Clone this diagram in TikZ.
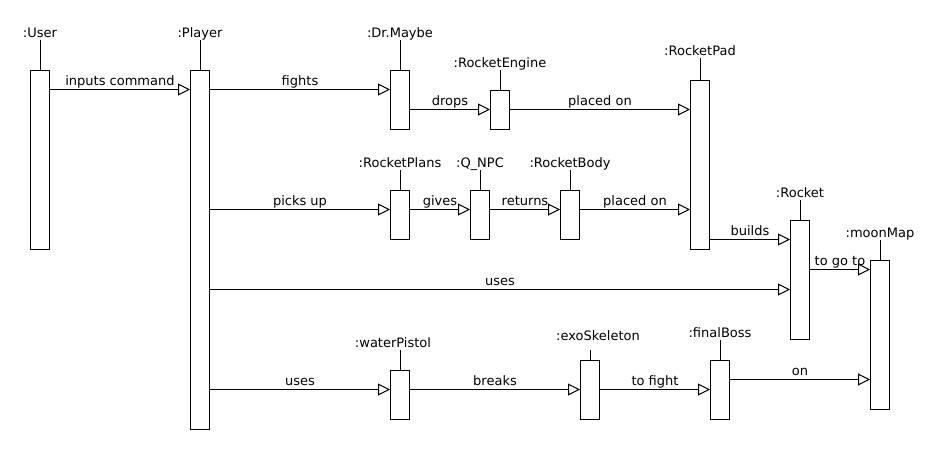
\documentclass[tikz,border=0pt]{standalone}
\usepackage{fontspec}
\setmainfont{DejaVu Sans}
\usetikzlibrary{arrows.meta}

\begin{document}
\begin{tikzpicture}[x=1pt,y=-1pt,line width=1pt,font=\fontsize{13}{15}\selectfont,
    act/.style={draw,fill=white,minimum width=19pt,inner sep=0pt},
    msg/.style={-{Triangle[open,length=12pt,width=12pt]}},
    lbl/.style={anchor=base,yshift=2pt,inner sep=0pt},
    txt/.style={midway,anchor=base,yshift=4pt,inner sep=0pt}]
    \useasboundingbox (0,0) rectangle (940,450);

    % Activation boxes
    \node[act, minimum height=179pt] (user)   at (40,159.5)  {};
    \node[act, minimum height=359pt] (player) at (200,249.5) {};
    \node[act, minimum height=59pt]  (drmaybe) at (400,99.5) {};
    \node[act, minimum height=39pt]  (engine) at (500,109.5) {};
    \node[act, minimum height=169pt] (pad)    at (700,164.5) {};
    \node[act, minimum height=49pt]  (plans)  at (400,214.5) {};
    \node[act, minimum height=49pt]  (npc)    at (480,214.5) {};
    \node[act, minimum height=49pt]  (body)   at (570,214.5) {};
    \node[act, minimum height=119pt] (rocket) at (800,279.5) {};
    \node[act, minimum height=149pt] (moon)   at (880,334.5) {};
    \node[act, minimum height=49pt]  (pistol) at (400,394.5) {};
    \node[act, minimum height=59pt]  (exo)    at (590,389.5) {};
    \node[act, minimum height=59pt]  (boss)   at (720,389.5) {};

    % Lifeline stems and object names
    \draw (user.north)    -- ++(0,-30) node[lbl] (userlbl) {:User};
    \draw (player.north)  -- ++(0,-30) node[lbl] (playerlbl) {:Player};
    \draw (drmaybe.north) -- ++(0,-30) node[lbl] (drmaybelbl) {:Dr.Maybe};
    \draw (engine.north)  -- ++(0,-20) node[lbl] (enginelbl) {:RocketEngine};
    \draw (pad.north)     -- ++(0,-22) node[lbl] (padlbl) {:RocketPad};
    \draw (plans.north)   -- ++(0,-20) node[lbl] (planslbl) {:RocketPlans};
    \draw (npc.north)     -- ++(0,-20) node[lbl] (npclbl) {:Q\_NPC};
    \draw (body.north)    -- ++(0,-20) node[lbl] (bodylbl) {:RocketBody};
    \draw (rocket.north)  -- ++(0,-20) node[lbl] (rocketlbl) {:Rocket};
    \draw (moon.north)    -- ++(0,-20) node[lbl] (moonlbl) {:moonMap};
    \draw (pistol.north)  -- ++(0,-20) node[lbl, xshift=-7pt] (pistollbl) {:waterPistol};
    \draw (exo.north)     -- ++(0,-10) node[lbl, xshift=8pt, yshift=7pt] (exolbl) {:exoSkeleton};
    \draw (boss.north)    -- ++(0,-20) node[lbl] (bosslbl) {:finalBoss};

    % Messages
    \draw[msg] ([yshift=-20pt]user.north east) -- ([yshift=-20pt]player.north west) node[txt] (m1) {inputs command};
    \draw[msg] ([yshift=-20pt]player.north east) -- ([yshift=-20pt]drmaybe.north west) node[txt] (m2) {fights};
    \draw[msg] ([yshift=-40pt]drmaybe.north east) -- ([yshift=-20pt]engine.north west) node[txt] (m3) {drops};
    \draw[msg] ([yshift=-20pt]engine.north east) -- ([yshift=-30pt]pad.north west) node[txt] (m4) {placed on};
    \draw[msg] ([yshift=-140pt]player.north east) -- ([yshift=-20pt]plans.north west) node[txt] (m5) {picks up};
    \draw[msg] ([yshift=-20pt]plans.north east) -- ([yshift=-20pt]npc.north west) node[txt] (m6) {gives};
    \draw[msg] ([yshift=-20pt]npc.north east) -- ([yshift=-20pt]body.north west) node[txt] (m7) {returns};
    \draw[msg] ([yshift=-20pt]body.north east) -- ([yshift=-130pt]pad.north west) node[txt] (m8) {placed on};
    \draw[msg] ([yshift=-160pt]pad.north east) -- ([yshift=-20pt]rocket.north west) node[txt] (m9) {builds};
    \draw[msg] ([yshift=-220pt]player.north east) -- ([yshift=-70pt]rocket.north west) node[txt] (m10) {uses};
    \draw[msg] ([yshift=-50pt]rocket.north east) -- ([yshift=-10pt]moon.north west) node[txt] (m11) {to go to};
    \draw[msg] ([yshift=-320pt]player.north east) -- ([yshift=-20pt]pistol.north west) node[txt] (m12) {uses};
    \draw[msg] ([yshift=-20pt]pistol.north east) -- ([yshift=-30pt]exo.north west) node[txt] (m13) {breaks};
    \draw[msg] ([yshift=-30pt]exo.north east) -- ([yshift=-30pt]boss.north west) node[txt] (m14) {to fight};
    \draw[msg] ([yshift=-20pt]boss.north east) -- ([yshift=-120pt]moon.north west) node[txt] (m15) {on};
\end{tikzpicture}
\end{document}
